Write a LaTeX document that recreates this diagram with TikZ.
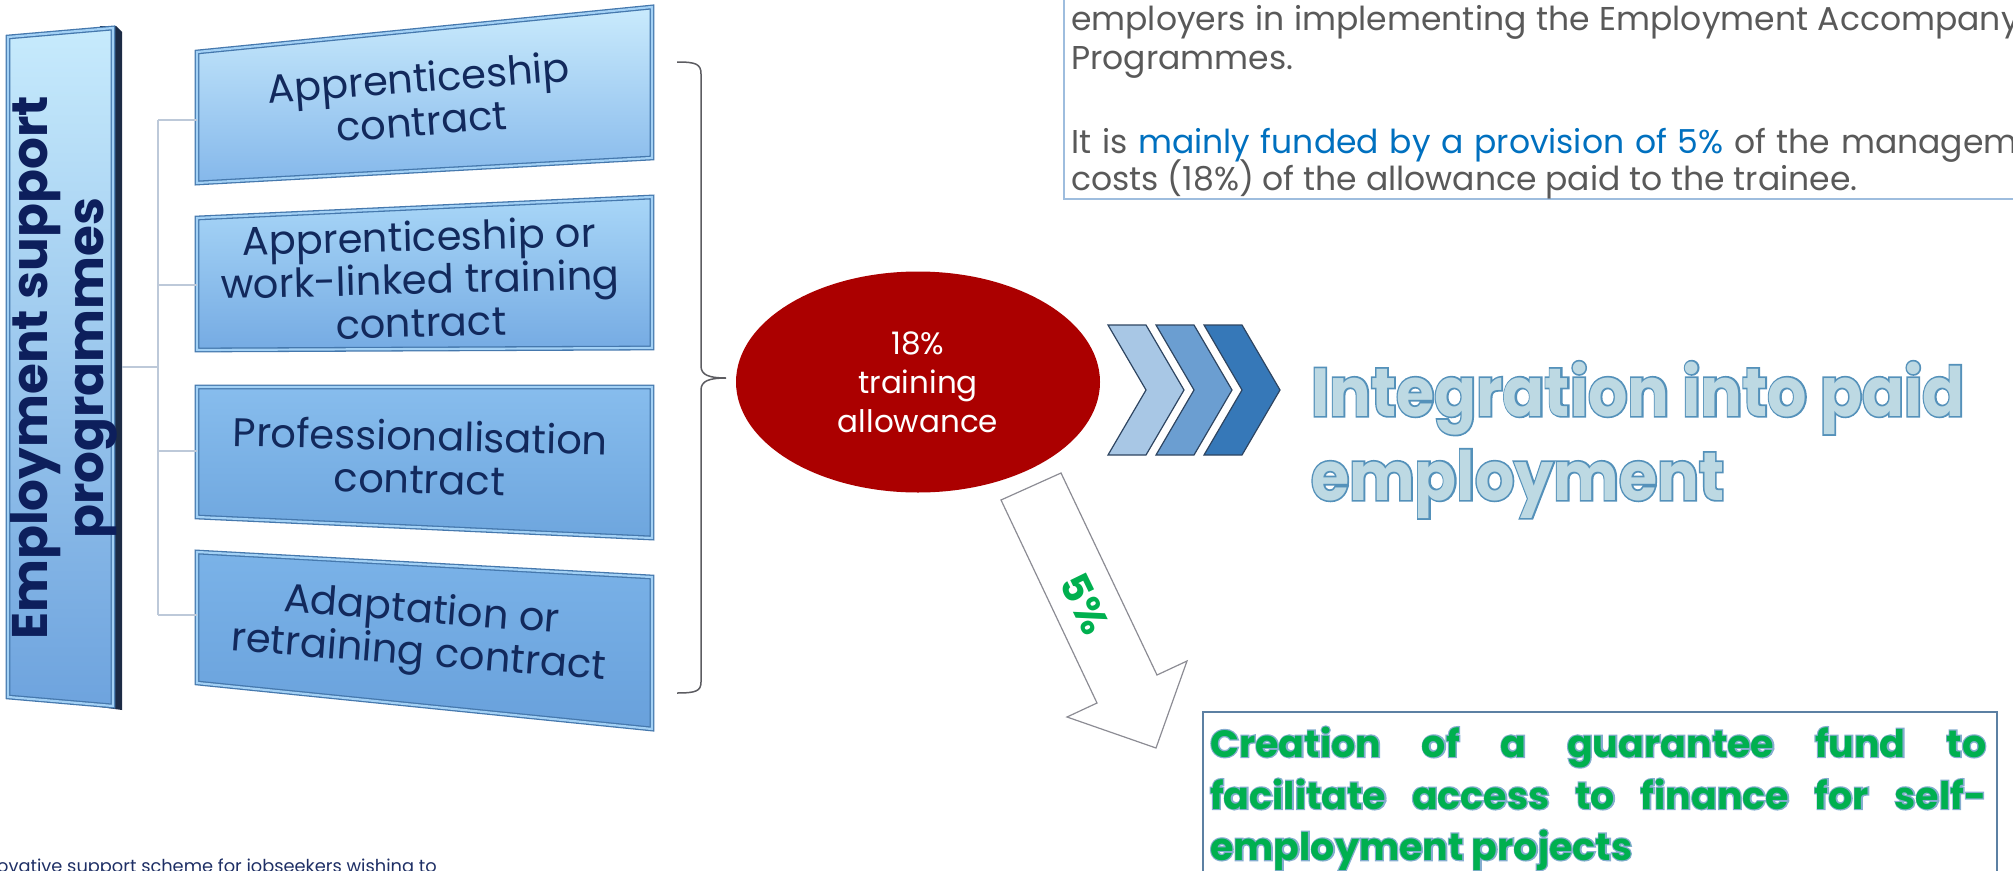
\documentclass[tikz,border=0pt]{standalone}
\usepackage{fontspec}
\setmainfont{Poppins}
\newfontfamily\headstroke{Poppins}[FakeBold=5]
\newfontfamily\fundstroke{Poppins}[FakeBold=6.5]
\usetikzlibrary{shapes.geometric}
\definecolor{barlight}{rgb}{0.78, 0.92, 0.99}
\definecolor{bardeep}{rgb}{0.43, 0.64, 0.87}
\definecolor{barshade}{rgb}{0.11, 0.17, 0.27}
\definecolor{barink}{rgb}{0.05, 0.12, 0.36}
\definecolor{tileline}{rgb}{0.27, 0.47, 0.68}
\definecolor{tilebevel}{rgb}{0.64, 0.82, 0.96}
\definecolor{tileink}{rgb}{0.07, 0.16, 0.36}
\definecolor{linkgrey}{rgb}{0.74, 0.79, 0.85}
\definecolor{bracegrey}{rgb}{0.36, 0.36, 0.38}
\definecolor{allowred}{rgb}{0.67, 0.0, 0.0}
\definecolor{chevpale}{rgb}{0.66, 0.78, 0.90}
\definecolor{chevmid}{rgb}{0.42, 0.62, 0.82}
\definecolor{chevdeep}{rgb}{0.21, 0.47, 0.72}
\definecolor{chevline}{rgb}{0.18, 0.27, 0.38}
\definecolor{integfill}{rgb}{0.74, 0.85, 0.89}
\definecolor{integline}{rgb}{0.33, 0.57, 0.73}
\definecolor{fundgreen}{rgb}{0.0, 0.69, 0.31}
\definecolor{fundline}{rgb}{0.52, 0.68, 0.81}
\definecolor{fundbox}{rgb}{0.36, 0.50, 0.64}
\definecolor{noteink}{rgb}{0.35, 0.35, 0.35}
\definecolor{noteblue}{rgb}{0.0, 0.44, 0.75}
\definecolor{notebox}{rgb}{0.62, 0.74, 0.87}
\definecolor{arrowgrey}{rgb}{0.55, 0.55, 0.58}
\definecolor{footink}{rgb}{0.12, 0.19, 0.40}
\tikzstyle{tile} = [draw=tileline, line width=1.3pt, double=tilebevel, double distance=2.2pt, shading angle=30]
\tikzstyle{tiletext} = [text=tileink, align=center, inner sep=0pt, font=\fontsize{40}{43}\selectfont]
\tikzstyle{link} = [draw=linkgrey, line width=1.5pt]
\tikzstyle{allowance} = [ellipse, fill=allowred, text=white, align=center, inner sep=0pt, minimum width=364pt, minimum height=221pt, font=\fontsize{31}{39}\selectfont]
\tikzstyle{chevron} = [draw=chevline, line width=1.2pt, line join=miter]
\tikzstyle{notetext} = [text=noteink, anchor=base west, inner sep=0pt, font=\fontsize{33}{37}\selectfont]
\tikzstyle{fundtext} = [anchor=base west, inner sep=0pt, font=\fontsize{38}{52}\selectfont\bfseries]
\tikzstyle{headtext} = [anchor=base west, inner sep=0pt, font=\fontsize{68}{84}\selectfont\bfseries]
\newcommand{\strokedtext}[4]{\makebox[0pt][l]{#1\bfseries\color{#2}#4}{\color{#3}#4}}

\begin{document}
\begin{tikzpicture}[x=1pt, y=-1pt]
		\useasboundingbox (0,0) rectangle (2013,870);
		\clip (0,0) rectangle (2013,870);

		% programme bar and its four contracts
		\fill[barshade] (100,26) -- (116,26) -- (122,32) -- (122,710) -- (100,707) -- cycle;
		\shade[tile, top color=barlight, bottom color=bardeep] (8,37) -- (113,28) -- (113,706) -- (8,697) -- cycle;
		\node[text=barink, rotate=90, align=center, inner sep=0pt, font=\fontsize{50}{56}\selectfont\bfseries](esp) at (64,368){Employment support\\programmes};

		\shade[tile, top color={rgb,1:red,0.79;green,0.92;blue,0.99}, bottom color={rgb,1:red,0.52;green,0.72;blue,0.92}] (197,52) -- (652,7) -- (652,158) -- (197,183) -- cycle;
		\shade[tile, top color={rgb,1:red,0.66;green,0.84;blue,0.97}, bottom color={rgb,1:red,0.46;green,0.67;blue,0.89}] (197,218) -- (652,197) -- (652,348) -- (197,350) -- cycle;
		\shade[tile, top color={rgb,1:red,0.53;green,0.74;blue,0.93}, bottom color={rgb,1:red,0.43;green,0.65;blue,0.87}] (197,387) -- (652,387) -- (652,538) -- (197,517) -- cycle;
		\shade[tile, top color={rgb,1:red,0.48;green,0.70;blue,0.91}, bottom color={rgb,1:red,0.41;green,0.63;blue,0.86}] (197,552) -- (652,577) -- (652,729) -- (197,683) -- cycle;
		\node[tiletext, rotate=4.3](appr) at (420,99){Apprenticeship\\contract};
		\node[tiletext, rotate=1.4](wlink) at (420,279){Apprenticeship or\\work-linked training\\contract};
		\node[tiletext, rotate=-1.3](prof) at (420,457){Professionalisation\\contract};
		\node[tiletext, rotate=-4.4](adapt) at (420,634){Adaptation or\\retraining contract};

		\coordinate (hub) at (122,367);
		\coordinate (trunk) at (158,367);
		\coordinate (appr-w) at (197,120);
		\coordinate (wlink-w) at (197,285);
		\coordinate (prof-w) at (197,451);
		\coordinate (adapt-w) at (197,615);
		\draw[link](hub)--(trunk);
		\draw[link](trunk |- appr-w)--(trunk |- adapt-w);
		\draw[link](trunk |- appr-w)--(appr-w);
		\draw[link](trunk |- wlink-w)--(wlink-w);
		\draw[link](trunk |- prof-w)--(prof-w);
		\draw[link](trunk |- adapt-w)--(adapt-w);

		% brace into the allowance
		\draw[bracegrey, line width=1.5pt] (677,62) .. controls (696,62) and (701,64) .. (701,74) -- (701,366) .. controls (701,375) and (709,378) .. (726,378) .. controls (709,378) and (701,381) .. (701,390) -- (701,682) .. controls (701,691) and (696,693) .. (677,693);
		\node[allowance](allow) at (918,382){18\%\\training\\allowance};

		% chevrons and outcome
		\draw[chevron, fill=chevpale] (1108,325) -- (1146,325) -- (1184,390) -- (1146,455) -- (1108,455) -- (1146,390) -- cycle;
		\draw[chevron, fill=chevmid] (1156,325) -- (1194,325) -- (1232,390) -- (1194,455) -- (1156,455) -- (1194,390) -- cycle;
		\draw[chevron, fill=chevdeep] (1204,325) -- (1242,325) -- (1280,390) -- (1242,455) -- (1204,455) -- (1242,390) -- cycle;
		\node[headtext](integ) at (1311,416){\scalebox{0.91}[1]{\strokedtext{\headstroke}{integline}{integfill}{Integration into paid}}};
		\node[headtext](integ2) at (1311,500){\scalebox{0.91}[1]{\strokedtext{\headstroke}{integline}{integfill}{employment}}};

		% 5% block arrow down to the fund
		\draw[arrowgrey, fill=white, line width=1.2pt] (1001,500) -- (1061,473) -- (1157,675) -- (1187,661) -- (1156,748) -- (1067,717) -- (1097,703) -- cycle;
		\node[text=fundgreen, rotate=-64, inner sep=0pt, font=\fontsize{40}{40}\selectfont\bfseries](five) at (1085,604){5\%};

		\draw[fundbox, line width=1.5pt] (1203,712) rectangle (1997,900);
		\node[fundtext](fund1) at (1210,757){\strokedtext{\fundstroke}{fundline}{fundgreen}{\makebox[776pt][s]{Creation of a guarantee fund to}}};
		\node[fundtext](fund2) at (1210,809){\strokedtext{\fundstroke}{fundline}{fundgreen}{\makebox[776pt][s]{facilitate access to finance for self-}}};
		\node[fundtext](fund3) at (1210,860){\strokedtext{\fundstroke}{fundline}{fundgreen}{employment projects}};

		% note box, top right
		\draw[notebox, line width=1.3pt] (1064,-10) rectangle (2040,199);
		\node[notetext](note1) at (1071,30){\makebox[1000pt][s]{employers in implementing the Employment Accompanying}};
		\node[notetext](note2) at (1071,69){Programmes.};
		\node[notetext](note3) at (1071,153){\makebox[1000pt][s]{It is \textcolor{noteblue}{mainly funded by a provision of 5\%} of the management}};
		\node[notetext](note4) at (1071,190){costs (18\%) of the allowance paid to the trainee.};

		\node[text=footink, anchor=base west, inner sep=0pt, font=\fontsize{17.8}{20}\selectfont](foot) at (-3,872){ovative support scheme for jobseekers wishing to};
\end{tikzpicture}
\end{document}
